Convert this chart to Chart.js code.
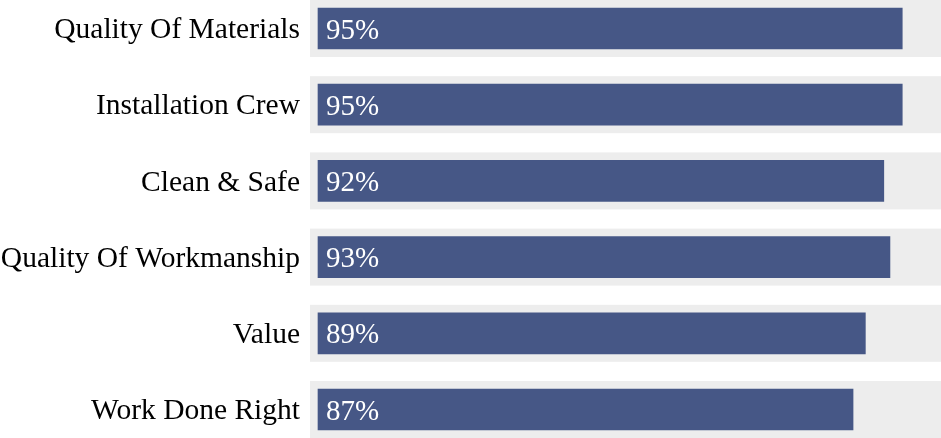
<!DOCTYPE html>
<html lang="en">
<head>
    <meta charset="UTF-8">
    <title>Satisfaction Ratings</title>
    <script src="https://cdn.jsdelivr.net/npm/chart.js"></script>
    <style>
        html, body { margin: 0; padding: 0; background: white; }
        #wrap { width: 941px; height: 438px; }
    </style>
</head>
<body>
    <div id="wrap"><canvas id="ratingChart"></canvas></div>

    <script>
        const categories = ["Quality Of Materials", "Installation Crew", "Clean & Safe", "Quality Of Workmanship", "Value", "Work Done Right"];
        const ratings = [95, 95, 92, 93, 89, 87];
        const scaleMax = 100;

        // grey track behind each bar, a bit wider than the bar itself
        const trackPlugin = {
            id: "track",
            beforeDatasetsDraw(chart) {
                const ctx = chart.ctx;
                const x = chart.scales.x;
                const pad = 8;
                const left = x.getPixelForValue(0) - pad;
                const right = x.getPixelForValue(scaleMax) + pad;
                ctx.save();
                ctx.fillStyle = "#ededed";
                chart.getDatasetMeta(0).data.forEach(bar => {
                    ctx.fillRect(left, bar.y - bar.height / 2 - pad, right - left, bar.height + pad * 2);
                });
                ctx.restore();
            }
        };

        const valueLabels = {
            id: "valueLabels",
            afterDatasetsDraw(chart) {
                const ctx = chart.ctx;
                ctx.save();
                ctx.fillStyle = "#ffffff";
                ctx.font = "29px 'Liberation Serif', 'Times New Roman', serif";
                ctx.textAlign = "left";
                ctx.textBaseline = "middle";
                chart.getDatasetMeta(0).data.forEach((bar, i) => {
                    ctx.fillText(ratings[i] + "%", bar.base + 8, bar.y + 2.5);
                });
                ctx.restore();
            }
        };

        new Chart(document.getElementById("ratingChart"), {
            type: "bar",
            data: {
                labels: categories,
                datasets: [{
                    data: ratings,
                    backgroundColor: "#465786",
                    barThickness: 41,
                    clip: false
                }]
            },
            options: {
                indexAxis: "y",
                responsive: true,
                maintainAspectRatio: false,
                animation: false,
                layout: { padding: { top: 28.5, bottom: 28.5, right: 8, left: 0 } },
                plugins: {
                    legend: { display: false },
                    tooltip: { enabled: false }
                },
                scales: {
                    x: {
                        display: false,
                        min: 0,
                        max: scaleMax
                    },
                    y: {
                        offset: false,
                        grid: { display: false, drawTicks: false },
                        border: { display: false },
                        afterFit(axis) {
                            axis.width = 318;
                            axis.paddingTop = 0;
                            axis.paddingBottom = 0;
                        },
                        ticks: {
                            padding: 18,
                            labelOffset: 2,
                            color: "#000000",
                            font: { family: "'Liberation Serif', 'Times New Roman', serif", size: 29.5 }
                        }
                    }
                }
            },
            plugins: [trackPlugin, valueLabels]
        });
    </script>
</body>
</html>
